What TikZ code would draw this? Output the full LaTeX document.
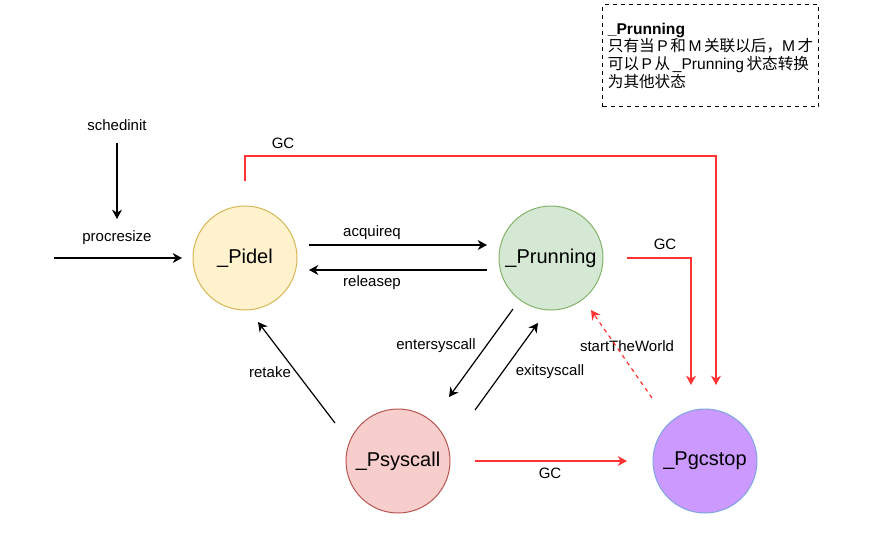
\documentclass[tikz,border=0pt]{standalone}
\usepackage{fontspec}
\setmainfont{Liberation Sans}
\newfontfamily\cjk{Noto Sans CJK SC}
\usetikzlibrary{arrows.meta,calc}
\definecolor{idlefill}{HTML}{FFF2CC}
\definecolor{idledraw}{HTML}{D6B656}
\definecolor{runfill}{HTML}{D5E8D4}
\definecolor{rundraw}{HTML}{82B366}
\definecolor{sysfill}{HTML}{F8CECC}
\definecolor{sysdraw}{HTML}{B85450}
\definecolor{gcfill}{HTML}{CC99FF}
\definecolor{gcdraw}{HTML}{7EA6E0}
\definecolor{gcred}{HTML}{FF3333}
\begin{document}
\begin{tikzpicture}[x=0.75pt,y=-0.75pt,
        state/.style={circle,draw,line width=0.75pt,minimum size=78pt,inner sep=0pt,font=\fontsize{15}{18}\selectfont},
        lbl/.style={inner sep=1pt,font=\fontsize{11.25}{13}\selectfont},
        arr/.style={-{Stealth[length=7pt,width=7.5pt,inset=2.2pt]},line width=0.9pt,black},
        gc/.style={arr,gcred},
        notebox/.style={draw,dashed,line width=0.9pt,anchor=north west,minimum width=162pt,minimum height=76.5pt,
            inner sep=1pt,align=left,font=\fontsize{11.7}{13.2}\selectfont}]

    \useasboundingbox (0,0) rectangle (872,540);

    \node[state,fill=idlefill,draw=idledraw] (Pidel) at (245,258) {\_Pidel};
    \node[state,fill=runfill,draw=rundraw] (Prunning) at (551,258) {\_Prunning};
    \node[state,fill=sysfill,draw=sysdraw] (Psyscall) at (398,461) {\_Psyscall};
    \node[state,fill=gcfill,draw=gcdraw] (Pgcstop) at (705,461) {\_Pgcstop};

    \node[notebox] (note) at (602,4) {\textbf{\_Prunning}\\
        {\cjk 只有当}\,P\,{\cjk 和}\,M\,{\cjk 关联以后，}M\,{\cjk 才}\\
        {\cjk 可以}\,P\,{\cjk 从}\,\_Prunning\,{\cjk 状态转换}\\
        {\cjk 为其他状态}};

    \node[lbl] (schedinit) at (117,125) {schedinit};
    \node[lbl] (procresize) at (117,238) {procresize};
    \coordinate (start) at (54,258);
    \node[lbl] (gc1) at (283,143) {GC};
    \node[lbl] (acquireq) at (372,233) {acquireq};
    \node[lbl] (releasep) at (372,283) {releasep};
    \node[lbl] (gc2) at (665,244) {GC};
    \node[lbl] (startTheWorld) at (627,346) {startTheWorld};
    \node[lbl] (entersyscall) at (436,346) {entersyscall};
    \node[lbl] (exitsyscall) at (550,372) {exitsyscall};
    \node[lbl] (retake) at (270,372) {retake};
    \node[lbl] (gc3) at (550,473) {GC};

    \draw[arr] ($(schedinit)+(0,18)$) -- ($(schedinit)+(0,94)$);
    \draw[arr] (start) -- ($(Pidel)+(-63,0)$);
    \draw[gc] ($(Pidel)+(0,-77)$) -- ++(0,-25) -| ($(Pgcstop)+(11,-76)$);
    \draw[arr] ($(Pidel)+(64,-13)$) -- ($(Prunning)+(-64,-13)$);
    \draw[arr] ($(Prunning)+(-64,12)$) -- ($(Pidel)+(64,12)$);
    \draw[gc] ($(Prunning)+(76,0)$) -| ($(Pgcstop)+(-14,-76)$);
    \draw[gc,dash pattern=on 3pt off 3pt] ($(Pgcstop)+(-53,-63)$) -- ($(Prunning)+(40,52)$);
    \draw[arr] ($(Prunning)+(-38,51)$) -- ($(Psyscall)+(51,-64)$);
    \draw[arr] ($(Psyscall)+(77,-51)$) -- ($(Prunning)+(-13,65)$);
    \draw[arr] ($(Psyscall)+(-63,-38)$) -- ($(Pidel)+(13,64)$);
    \draw[gc] ($(Psyscall)+(77,0)$) -- ($(Pgcstop)+(-78,0)$);
\end{tikzpicture}
\end{document}
